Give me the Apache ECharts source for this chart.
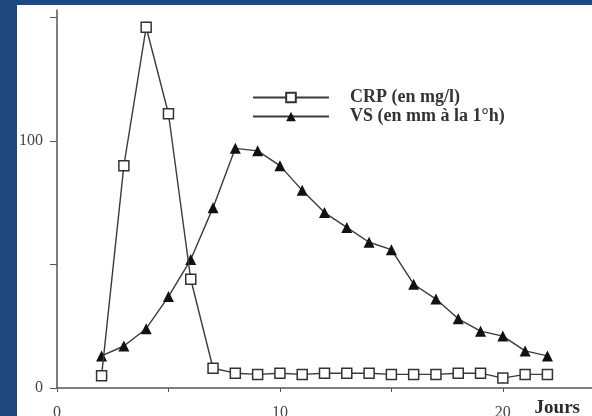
<!DOCTYPE html>
<html>
<head>
<meta charset="utf-8">
<script src="https://cdn.jsdelivr.net/npm/echarts@6/dist/echarts.min.js"></script>
<style>
  html, body { margin: 0; padding: 0; background: #1f497d; width: 592px; height: 416px; overflow: hidden; }
  #chart { position: absolute; left: 17px; top: 5px; width: 575px; height: 411px; background: #fff; }
</style>
</head>
<body>
<div id="chart"></div>
<script>
// jours d'observation
var crpDays = [2, 3, 4, 5, 6, 7, 8, 9, 10, 11, 12, 13, 14, 15, 16, 17, 18, 19, 20, 21, 22];
var crpValues = [5, 90, 146, 111, 44, 8, 6, 5.5, 6, 5.5, 6, 6, 6, 5.5, 5.5, 5.5, 6, 6, 4, 5.5, 5.5];
var vsDays = [2, 3, 4, 5, 6, 7, 8, 9, 10, 11, 12, 13, 14, 15, 16, 17, 18, 19, 20, 21, 22];
var vsValues = [13, 17, 24, 37, 52, 73, 97, 96, 90, 80, 71, 65, 59, 56, 42, 36, 28, 23, 21, 15, 13];
var xTicks = [0, 5, 10, 15, 20];
var xLabels = [0, 10, 20];
var yTicks = [0, 50, 100, 150];
var yLabels = [0, 100];

var serif = '"Liberation Serif", "DejaVu Serif", serif';
var ink = '#2b2b2b';

function pairs(xs, ys) {
    var out = [];
    for (var i = 0; i < xs.length; i++) out.push([xs[i], ys[i]]);
    return out;
}

var chart = echarts.init(document.getElementById('chart'));
var option = {
    animation: false,
    textStyle: { fontFamily: serif, color: ink },
    grid: { left: 40, right: 0, top: 5, bottom: 28, containLabel: false, outerBoundsMode: 'none' },
    legend: {
        left: 230,
        top: 77,
        orient: 'vertical',
        itemWidth: 76,
        itemHeight: 12,
        itemGap: -2,
        textStyle: {
            fontFamily: serif, fontSize: 18, fontWeight: 'bold', color: '#333',
            lineHeight: 16, padding: [5, 0, 0, 16]
        },
        data: ['CRP (en mg/l)', 'VS (en mm à la 1°h)']
    },
    xAxis: {
        type: 'value',
        min: 0,
        max: 24,
        splitLine: { show: false },
        axisLine: { onZero: false, lineStyle: { color: '#555', width: 1.5 } },
        axisTick: { show: true, length: 4, customValues: xTicks, lineStyle: { color: '#555' } },
        axisLabel: { customValues: xLabels, margin: 17, fontSize: 16, color: '#444', fontFamily: serif }
    },
    yAxis: {
        type: 'value',
        min: 0,
        max: 153,
        splitLine: { show: false },
        axisLine: { show: true, lineStyle: { color: '#555', width: 1.5 } },
        axisTick: { show: true, length: 7, customValues: yTicks, lineStyle: { color: '#555' } },
        axisLabel: { customValues: yLabels, margin: 14, fontSize: 16, color: '#444', fontFamily: serif }
    },
    graphic: [{
        type: 'text',
        right: 12,
        bottom: -2,
        style: { text: 'Jours', font: 'bold 19px ' + serif, fill: ink }
    }],
    series: [
        {
            name: 'CRP (en mg/l)',
            type: 'line',
            data: pairs(crpDays, crpValues),
            symbol: 'rect',
            symbolSize: 10,
            lineStyle: { color: '#3a3a3a', width: 1.4 },
            itemStyle: { color: '#fff', borderColor: '#333', borderWidth: 1.5 },
            z: 3
        },
        {
            name: 'VS (en mm à la 1°h)',
            type: 'line',
            data: pairs(vsDays, vsValues),
            symbol: 'triangle',
            symbolSize: 11,
            lineStyle: { color: '#3a3a3a', width: 1.4 },
            itemStyle: { color: '#111', borderColor: '#111', borderWidth: 0 },
            z: 2
        }
    ]
};
chart.setOption(option);
</script>
</body>
</html>
